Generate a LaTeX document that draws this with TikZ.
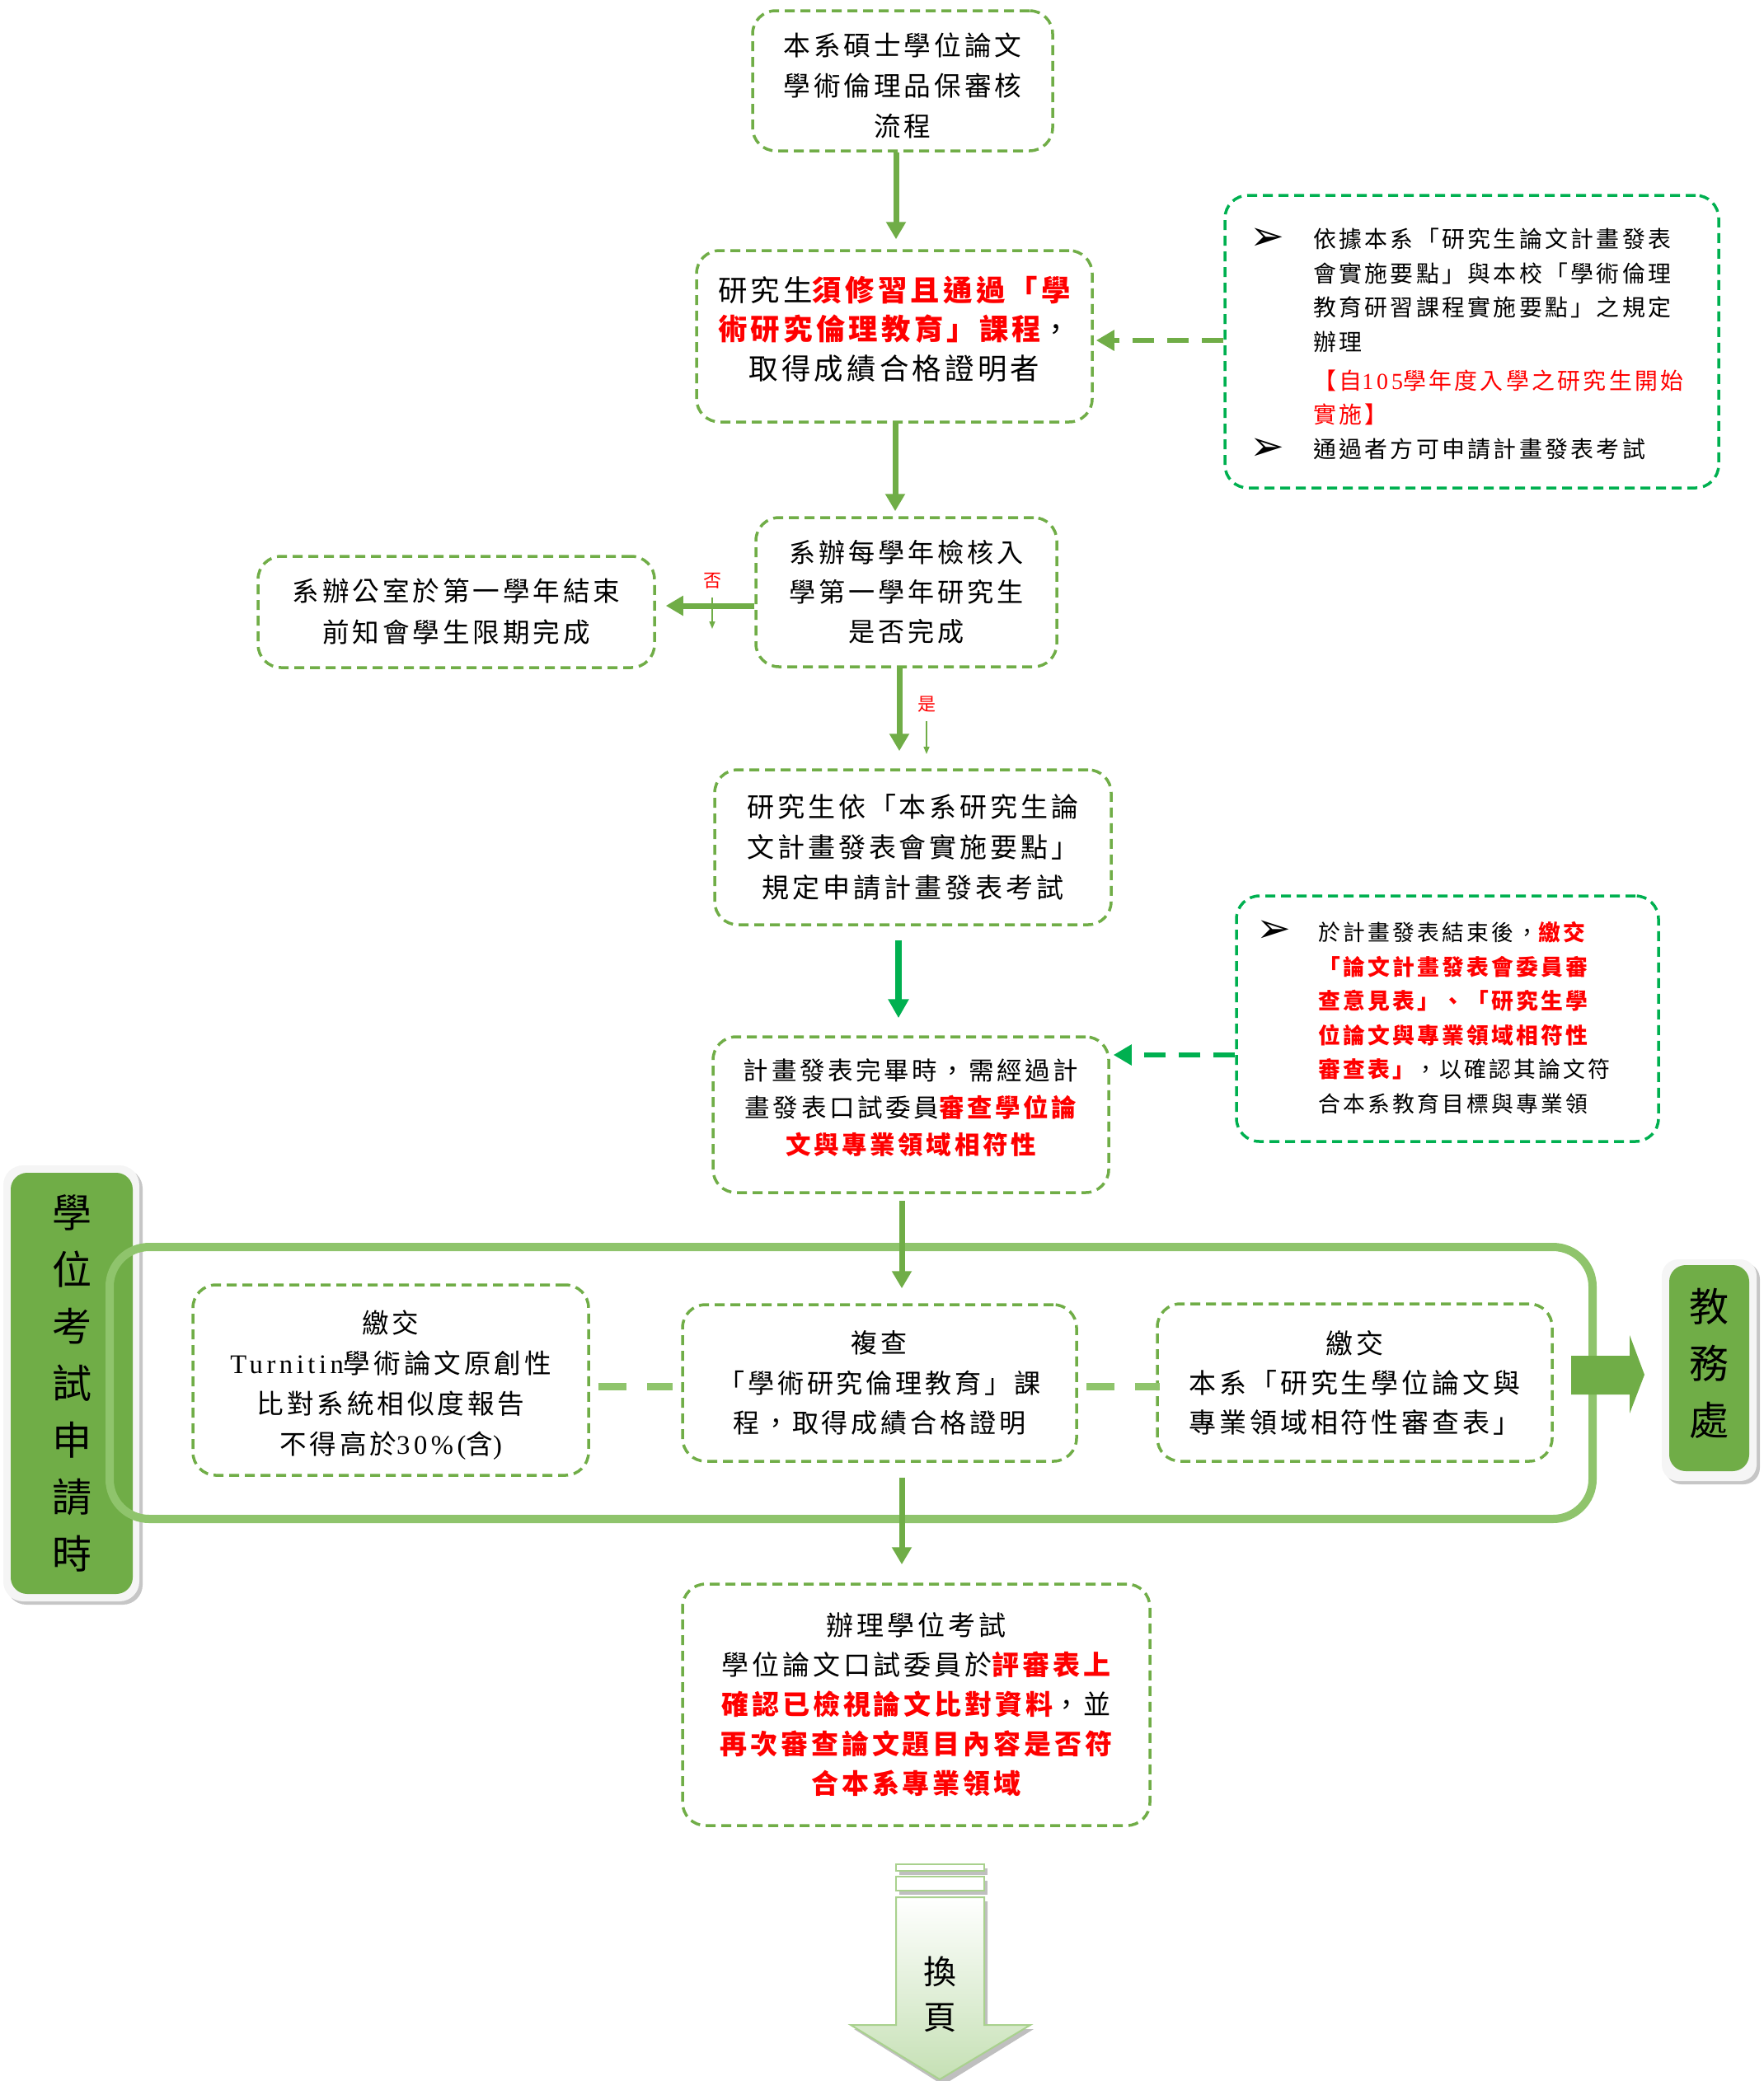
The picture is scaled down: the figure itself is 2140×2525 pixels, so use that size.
\documentclass[tikz,border=0pt]{standalone}
\usepackage{fontspec}
\newfontfamily\cjk{Noto Sans CJK TC}[LetterSpace=12]
\newfontfamily\cjkplain{Noto Sans CJK TC}
\newfontfamily\latfont{Liberation Serif}[LetterSpace=14]
\newfontfamily\dejavu{DejaVu Sans}
\usetikzlibrary{arrows.meta,calc}
\definecolor{boxgreen}{HTML}{70AD47}
\definecolor{brightgreen}{HTML}{00B050}
\definecolor{lightgreen}{HTML}{8FC46C}
\definecolor{myred}{HTML}{FF0000}
\definecolor{pagegreen}{HTML}{C5E0B4}
\definecolor{pageedge}{HTML}{A9D18E}
\newcommand{\setcjk}[2]{\cjk\fontsize{#1}{#2}\selectfont}
\newcommand{\redtxt}[1]{{\color{myred}\bfseries #1}}
\newcommand{\lat}[1]{{\latfont #1}}
\newcommand{\mytopstrut}[1]{\rule{0pt}{#1}}
\newcommand{\mybotstrut}[1]{\rule[-#1]{0pt}{#1}}
\tikzset{
  fbox/.style={draw=boxgreen, line width=3.5pt, dash pattern=on 12pt off 7pt,
    rounded corners=28pt, align=center, inner sep=0pt, text=black},
  nbox/.style={fbox, draw=brightgreen},
  flow/.style={draw=boxgreen, line width=7pt, -{Triangle[width=23pt,length=21pt]}},
  brightflow/.style={draw=brightgreen, line width=8pt, -{Triangle[width=24pt,length=23pt]}},
  dflow/.style={draw=boxgreen, line width=6pt, dash pattern=on 26pt off 16pt, -{Triangle[width=24pt,length=22pt]}},
  dbright/.style={draw=brightgreen, line width=6pt, dash pattern=on 26pt off 16pt, -{Triangle[width=24pt,length=22pt]}},
  link/.style={draw=lightgreen, line width=9pt, dash pattern=on 34pt off 25pt},
  thinarrow/.style={draw=boxgreen, line width=1.5pt, -{Triangle[width=7pt,length=9pt]}},
  lab/.style={fill=boxgreen, rounded corners=20pt, align=center, inner sep=0pt,
    font=\cjkplain\fontsize{48}{69}\selectfont},
  yn/.style={text=myred, inner sep=0pt, font=\cjkplain\fontsize{22}{22}\selectfont},
  bullet/.style={inner sep=0pt, font=\dejavu\fontsize{50}{50}\selectfont}
}
\begin{document}
\begin{tikzpicture}[x=1pt,y=-1pt]
\useasboundingbox (0,0) rectangle (2140,2525);

% ---- main boxes ----
\node[fbox, minimum width=364pt, minimum height=170pt, font=\setcjk{32.7}{49}] (title) at (1095,98)
  {\mytopstrut{40pt}本系碩士學位論文\\學術倫理品保審核\\流程};
\node[fbox, minimum width=480pt, minimum height=208pt, font=\setcjk{35.4}{47.5}] (course) at (1085,408)
  {研究生\redtxt{須修習且通過「學}\\\redtxt{術研究倫理教育」課程}，\\取得成績合格證明者\mybotstrut{21pt}};
\node[nbox, minimum width=599pt, minimum height=355pt] (note1) at (1785.5,414.5) {};
\node[anchor=north west, align=left, inner sep=0pt, font=\setcjk{27.9}{41.5}] (note1txt) at (1593,277)
  {依據本系「研究生論文計畫發表\\會實施要點」與本校「學術倫理\\教育研習課程實施要點」之規定\\辦理\\[5.5pt]
   {\color{myred}【自\lat{105}學年度入學之研究生開始}\\{\color{myred}實施】}\\通過者方可申請計畫發表考試};
\node[bullet] (b1) at (1537,290) {➢};
\node[bullet] (b2) at (1537,545) {➢};

\node[fbox, minimum width=365pt, minimum height=181pt, font=\setcjk{32.1}{48}] (check) at (1099.5,718.5)
  {系辦每學年檢核入\\學第一學年研究生\\是否完成};
\node[fbox, minimum width=481pt, minimum height=135pt, font=\setcjk{32.6}{50}] (notify) at (553.5,742.5)
  {系辦公室於第一學年結束\\前知會學生限期完成};
\node[fbox, minimum width=481pt, minimum height=188pt, font=\setcjk{33}{49}] (apply) at (1107.5,1028)
  {研究生依「本系研究生論\\文計畫發表會實施要點」\\規定申請計畫發表考試};
\node[fbox, minimum width=480pt, minimum height=189pt, font=\setcjk{30.5}{45}] (review) at (1105,1352.5)
  {計畫發表完畢時，需經過計\\畫發表口試委員\redtxt{審查學位論}\\\redtxt{文與專業領域相符性}\mybotstrut{20pt}};
\node[nbox, minimum width=512pt, minimum height=298pt] (note2) at (1756,1236) {};
\node[anchor=north west, align=left, inner sep=0pt, font=\setcjk{26.8}{41.6}] (note2txt) at (1599,1118)
  {於計畫發表結束後，\redtxt{繳交}\\\redtxt{「論文計畫發表會委員審}\\\redtxt{查意見表」、「研究生學}\\\redtxt{位論文與專業領域相符性}\\\redtxt{審查表」}，以確認其論文符\\合本系教育目標與專業領};
\node[bullet] (b3) at (1545,1130) {➢};

% ---- side labels ----
\fill[gray!45, rounded corners=24pt] (8,1418) rectangle (173,1947);
\fill[gray!8, rounded corners=24pt] (4,1414) rectangle (169,1943);
\node[lab, minimum width=148pt, minimum height=511pt] (side) at (87,1678.5)
  {學\\位\\考\\試\\申\\請\\時};
\fill[gray!45, rounded corners=20pt] (2020,1532) rectangle (2135,1801);
\fill[gray!8, rounded corners=20pt] (2016,1528) rectangle (2131,1797);
\node[lab, minimum width=97pt, minimum height=250pt] (office) at (2073.5,1660) {教\\務\\處\mybotstrut{15pt}};

% ---- group frame ----
\node[draw=lightgreen, line width=10pt, rounded corners=48pt, minimum width=1799pt,
  minimum height=330pt, inner sep=0pt] (grp) at (1032.5,1678) {};
\draw[lightgreen, line width=3pt, rounded corners=40pt]
  ($(grp.north west)+(8,8)$) rectangle ($(grp.south east)+(-8,-8)$);

\node[fbox, minimum width=480pt, minimum height=231pt, font=\setcjk{32.6}{49}] (turnitin) at (474,1674.5)
  {\mytopstrut{40pt}繳交\\\lat{Turnitin}學術論文原創性\\比對系統相似度報告\\不得高於\lat{30\%(}含\lat{)}};
\node[fbox, minimum width=478pt, minimum height=190pt, font=\setcjk{32.1}{48.5}] (recheck) at (1067,1678)
  {複查\\「學術研究倫理教育」課\\程，取得成績合格證明};
\node[fbox, minimum width=479pt, minimum height=191pt, font=\setcjk{33}{48}] (submit) at (1643.5,1677.5)
  {繳交\\本系「研究生學位論文與\\專業領域相符性審查表」};
\node[fbox, minimum width=567pt, minimum height=293pt, font=\setcjk{33}{48}] (exam) at (1111.5,2068.5)
  {辦理學位考試\\學位論文口試委員於\redtxt{評審表上}\\\redtxt{確認已檢視論文比對資料}，並\\\redtxt{再次審查論文題目內容是否符}\\\redtxt{合本系專業領域}};

% ---- block arrow to office ----
\fill[boxgreen] (1906,1645) -- (1977,1645) -- (1977,1620) -- (1995,1668) -- (1977,1715)
  -- (1977,1692) -- (1906,1692) -- cycle;

% ---- page-turn arrow ----
\begin{scope}[shift={(4,5)}]
  \fill[gray!50] (1087,2262) rectangle (1194,2270);
  \fill[gray!50] (1087,2277) rectangle (1194,2294);
  \fill[gray!50] (1087,2302) -- (1194,2302) -- (1194,2457) -- (1250,2457) -- (1140,2525)
    -- (1032,2457) -- (1087,2457) -- cycle;
\end{scope}
\filldraw[fill=white, draw=pageedge, line width=2pt] (1087,2262) rectangle (1194,2270);
\filldraw[fill=white, draw=pageedge, line width=2pt] (1087,2277) rectangle (1194,2294);
\shadedraw[top color=white, bottom color=pagegreen, draw=pageedge, line width=2pt]
  (1087,2302) -- (1194,2302) -- (1194,2457) -- (1250,2457) -- (1140,2523)
  -- (1032,2457) -- (1087,2457) -- cycle;
\node[align=center, inner sep=0pt, font=\cjkplain\fontsize{40}{55}\selectfont] (pg) at (1140,2420) {換\\頁};

% ---- connectors ----
\draw[flow] ($(title.south)+(-8,0)$) -- ($(course.north)+(2,-12)$);
\draw[flow] ($(course.south)+(1,0)$) -- ($(check.north)+(-13.5,-6)$);
\draw[dflow] ($(note1.west)+(0,-1.5)$) -- ($(course.east)+(3,5)$);
\draw[flow] ($(check.west)+(0,16.5)$) -- ($(notify.east)+(12,-7.5)$);
\node[yn] (no) at (864,705) {否};
\draw[thinarrow] ($(no.center)+(0,20)$) -- ($(no.center)+(0,58)$);
\draw[flow] ($(check.south)+(-8.5,0)$) -- ($(apply.north)+(-16.5,-21)$);
\node[yn] (yes) at (1124,855) {是};
\draw[thinarrow] ($(yes.center)+(0,20)$) -- ($(yes.center)+(0,60)$);
\draw[brightflow] ($(apply.south)+(-17.5,17)$) -- ($(review.north)+(-15,-21)$);
\draw[dbright] ($(note2.west)+(0,44)$) -- ($(review.east)+(4,-72.5)$);
\draw[flow] ($(review.south)+(-11,8)$) -- ($(recheck.north)+(27,-18)$);
\draw[flow] ($(recheck.south)+(27,18)$) -- ($(exam.north)+(-17.5,-22)$);
\draw[link] ($(turnitin.east)+(10,7.5)$) -- ($(recheck.west)+(-10,4)$);
\draw[link] ($(recheck.east)+(10,4)$) -- ($(submit.west)+(5,4.5)$);
\end{tikzpicture}
\end{document}
